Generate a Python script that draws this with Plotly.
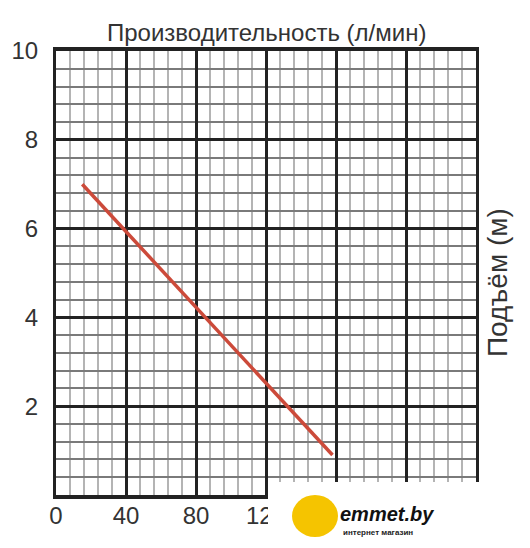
import plotly.graph_objects as go

# Data
flow = [15, 158]          # л/мин
head = [7.0, 0.9]         # м
x_ticks = [0, 40, 80, 120, 160, 200]
y_ticks = [2, 4, 6, 8, 10]

FONT = "Liberation Sans, Arial, sans-serif"
TXT = "#333333"

# page body has an 8px margin; work in screenshot pixels and convert
OFF = 8
L, T, W, H = 56 - OFF, 51 - OFF, 420, 444
FW, FH = 530 - OFF, 548 - OFF


def px(x):
    return (x - OFF - L) / W


def py(y):
    return (T + H - (y - OFF)) / H


fig = go.Figure()
fig.add_trace(go.Scatter(x=flow, y=head, mode="lines",
                         line=dict(color="#cc4a3a", width=3.5),
                         showlegend=False, hoverinfo="skip"))

fig.update_layout(
    width=FW, height=FH,
    margin=dict(l=L, r=FW - L - W, t=T, b=FH - T - H, autoexpand=False),
    paper_bgcolor="white", plot_bgcolor="white",
    font=dict(family=FONT, color=TXT),
    xaxis=dict(range=[0, 240], tickvals=x_ticks, ticktext=[str(v) for v in x_ticks],
               automargin=False,
               showgrid=True, gridcolor="#222222", gridwidth=3,
               minor=dict(dtick=8, tick0=0, showgrid=True, gridcolor="#b4b4b4", gridwidth=2),
               showline=True, linecolor="#222222", linewidth=4, mirror=True,
               zeroline=False, ticks="", ticklabelstandoff=-4,
               tickfont=dict(size=24, family=FONT, color=TXT)),
    yaxis=dict(range=[0, 10], tickvals=y_ticks, ticktext=[str(v) for v in y_ticks],
               automargin=False,
               showgrid=True, gridcolor="#222222", gridwidth=3,
               minor=dict(dtick=0.4, tick0=0, showgrid=True, gridcolor="#7a7a7a", gridwidth=1.5),
               showline=True, linecolor="#222222", linewidth=3, mirror=True,
               zeroline=False, ticks="", ticklabelstandoff=10,
               tickfont=dict(size=24, family=FONT, color=TXT)),
)

# axis titles
fig.add_annotation(text="Производительность (л/мин)", xref="paper", yref="paper",
                   x=px(266), y=py(33), showarrow=False,
                   xanchor="center", yanchor="middle",
                   font=dict(size=24, family=FONT, color=TXT))
fig.add_annotation(text="Подъём (м)", xref="paper", yref="paper",
                   x=px(497), y=py(283), showarrow=False,
                   textangle=-90, xanchor="center", yanchor="middle",
                   font=dict(size=28, family=FONT, color=TXT))

# watermark block
fig.add_shape(type="rect", xref="paper", yref="paper", layer="above",
              x0=px(268), x1=px(545), y0=py(560), y1=py(482),
              fillcolor="white", line=dict(width=0))
fig.add_shape(type="circle", xref="paper", yref="paper", layer="above",
              x0=px(292), x1=px(338), y0=py(537), y1=py(495),
              fillcolor="#f5c400", line=dict(width=0))
fig.add_annotation(text="<b><i>emmet.by</i></b>", xref="paper", yref="paper",
                   x=px(338), y=py(514), showarrow=False,
                   xanchor="left", yanchor="middle",
                   font=dict(size=20, family=FONT, color="#111111"))
fig.add_annotation(text="<b>интернет магазин</b>", xref="paper", yref="paper",
                   x=px(341), y=py(532), showarrow=False,
                   xanchor="left", yanchor="middle",
                   font=dict(size=8, family=FONT, color="#222222"))

fig.write_html("out.html")
